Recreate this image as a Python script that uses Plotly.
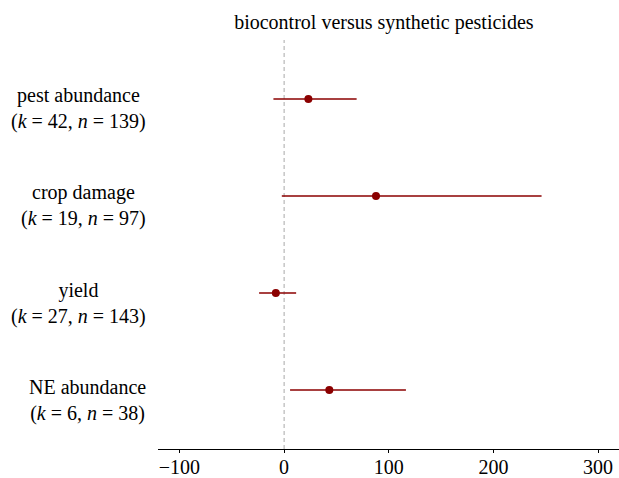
import plotly.graph_objects as go

outcomes = ["pest abundance", "crop damage", "yield", "NE abundance"]
k_values = [42, 19, 27, 6]
n_values = [139, 97, 143, 38]
estimates = [23.2, 87.8, -7.9, 43.2]
lower_ci = [-10.2, -2.2, -23.9, 5.7]
upper_ci = [69.3, 246.0, 11.5, 116.4]
x_ticks = [-100, 0, 100, 200, 300]
title_text = "biocontrol versus synthetic pesticides"

ypos = list(range(len(outcomes), 0, -1))
FONT = "Liberation Serif, Times New Roman, serif"
RED = "#8b0000"

fig = go.Figure()
fig.add_trace(go.Scatter(
    x=estimates, y=ypos, mode="markers",
    marker=dict(color=RED, size=8),
    error_x=dict(type="data", symmetric=False,
                 array=[u - e for u, e in zip(upper_ci, estimates)],
                 arrayminus=[e - l for e, l in zip(estimates, lower_ci)],
                 color=RED, thickness=1.5, width=0),
    showlegend=False, hoverinfo="skip",
))

fig.add_shape(type="line", xref="x", yref="paper", x0=0, x1=0, y0=0, y1=1,
              line=dict(color="#a8a8a8", width=1, dash="4px,3px"), layer="below")

for lab, k, n, y in zip(outcomes, k_values, n_values, ypos):
    fig.add_annotation(
        x=-0.022, xref="paper", y=y, yref="y", xanchor="right", yanchor="middle",
        align="center", showarrow=False, yshift=-10,
        text=f"{lab}<br>(<i>k</i> = {k}, <i>n</i> = {n})",
        font=dict(family=FONT, size=20, color="black"),
    )

fig.update_layout(
    width=619, height=478,
    margin=dict(l=158, r=0, t=40, b=29),
    paper_bgcolor="white", plot_bgcolor="white",
    font=dict(family=FONT, size=20, color="black"),
    title=dict(text=title_text, x=0.49, xref="paper", xanchor="center",
               y=1 - 22 / 478, yref="container", yanchor="middle",
               font=dict(family=FONT, size=20, color="black")),
    xaxis=dict(range=[-120.5, 320], tickvals=x_ticks,
               ticktext=[("\u2212" + str(-v)) if v < 0 else str(v) for v in x_ticks],
               showgrid=False, zeroline=False, showline=True, linecolor="black",
               linewidth=1.3, ticks="outside", ticklen=3, tickcolor="black",
               tickwidth=1, ticklabelstandoff=-3,
               tickfont=dict(family=FONT, size=20, color="black"),
               automargin=False),
    yaxis=dict(range=[0.392, 4.608], showticklabels=False, showgrid=False,
               zeroline=False, showline=False, automargin=False),
)

fig.write_html("out.html", config={"displayModeBar": False},
               post_script="document.body.style.margin='0';document.body.style.overflow='hidden';")
